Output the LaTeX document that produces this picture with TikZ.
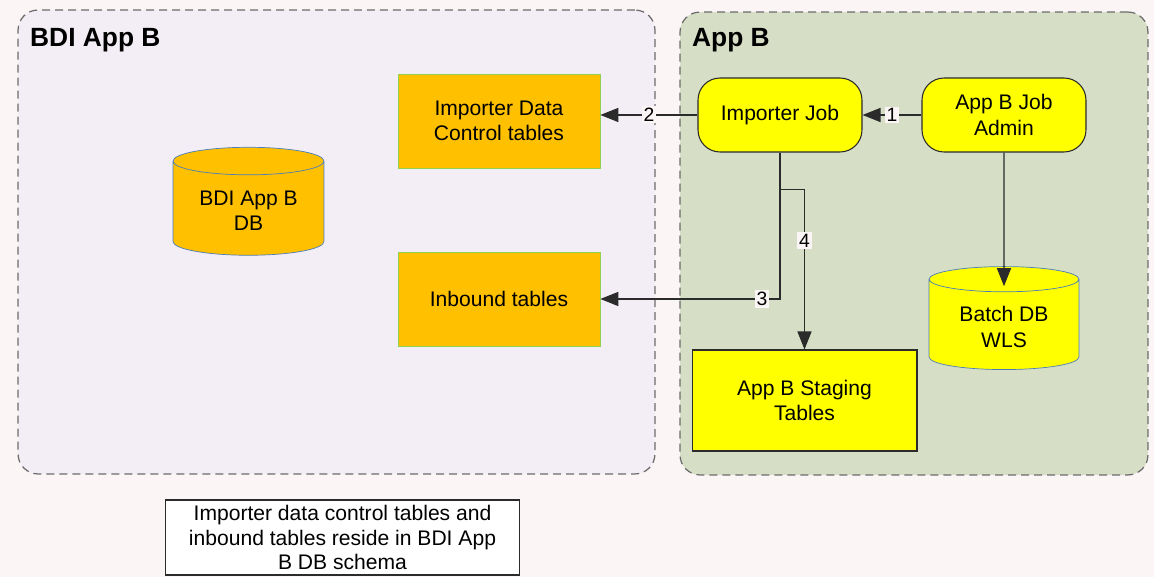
\documentclass[tikz,border=0pt]{standalone}
\usepackage{fontspec}
\setmainfont{Liberation Sans}
\usetikzlibrary{shapes.geometric,arrows.meta}

\definecolor{pagebg}{HTML}{FCF5F5}
\definecolor{bdifill}{HTML}{F3EEF6}
\definecolor{appfill}{HTML}{D6DEC6}
\definecolor{tblorange}{HTML}{FFC000}
\definecolor{tblgreen}{HTML}{92D050}
\definecolor{jobyellow}{HTML}{FFFF00}
\definecolor{dbblue}{HTML}{4A7EBB}
\definecolor{linegray}{HTML}{2B2B2B}

\begin{document}
\begin{tikzpicture}[x=0.02cm, y=-0.02cm, font=\fontsize{12}{14.5}\selectfont,
	container/.style={draw=linegray!70, dash pattern=on 1.6mm off 1mm, line width=0.7pt, rounded corners=0.4cm},
	boxtitle/.style={anchor=west, font=\fontsize{15}{18}\selectfont\bfseries},
	tablebox/.style={draw=tblgreen, fill=tblorange, minimum width=4.04cm, minimum height=1.88cm, align=center},
	jobbox/.style={draw=linegray, fill=jobyellow, line width=0.6pt, rounded corners=0.44cm, minimum width=3.28cm, minimum height=1.48cm, align=center},
	dbcyl/.style={cylinder, shape border rotate=90, aspect=0.25, draw=dbblue, align=center},
	flow/.style={draw=linegray, line width=0.8pt, -{Triangle[length=3.6mm, width=2.8mm]}},
	numlabel/.style={fill=pagebg, inner sep=1pt, font=\fontsize{11}{13}\selectfont}]
	\fill[pagebg] (0,0) rectangle (1154,577);
	\useasboundingbox (0,0) rectangle (1154,577);
	% the two systems
	\node (bdi) at (336.5,242) [container, fill=bdifill, minimum width=12.74cm, minimum height=9.28cm] {};
	\node (appb) at (914,243.5) [container, fill=appfill, minimum width=9.36cm, minimum height=9.26cm] {};
	\node (bdititle) at (24,40) [boxtitle] {BDI App B};
	\node (appbtitle) at (686,40) [boxtitle] {App B};
	% BDI App B side
	\node (bdidb) at (248.5,211) [dbcyl, fill=tblorange, minimum width=3.02cm, minimum height=2.16cm] {BDI App B\\DB};
	\node (impdata) at (499,121) [tablebox] {Importer Data\\Control tables};
	\node (inbound) at (499,299) [tablebox] {Inbound tables};
	% App B side
	\node (impjob) at (780,115) [jobbox] {Importer Job};
	\node (admin) at (1004,115) [jobbox] {App B Job\\Admin};
	\node (batchdb) at (1004,327) [dbcyl, fill=jobyellow, minimum width=3.0cm, minimum height=2.06cm] {Batch DB\\WLS};
	\node (staging) at (804.5,400.5) [draw=linegray, fill=jobyellow, line width=0.6pt, minimum width=4.5cm, minimum height=2.02cm, align=center] {App B Staging\\Tables};
	\node (note) at (342.5,537.5) [draw=linegray, fill=white, line width=0.6pt, minimum width=7.1cm, minimum height=1.5cm, inner sep=1pt, align=center, font=\fontsize{12}{13.8}\selectfont] {Importer data control tables and\\inbound tables reside in BDI App\\B DB schema};
	% flows
	\draw[flow] (admin.west) -- (impjob.east) node[numlabel, midway] {1};
	\draw[flow] (impjob.west) -- (impjob.west -| impdata.east) node[numlabel, midway] {2};
	\draw[flow] (impjob.south) |- node[numlabel, pos=0.55] {3} (inbound.east);
	\draw[flow] (impjob.south) -- ++(0,37) -| node[numlabel, pos=0.66] {4} (staging.north);
	\draw[flow, shorten >=-0.4cm] (admin.south) -- (batchdb.north);
\end{tikzpicture}
\end{document}
